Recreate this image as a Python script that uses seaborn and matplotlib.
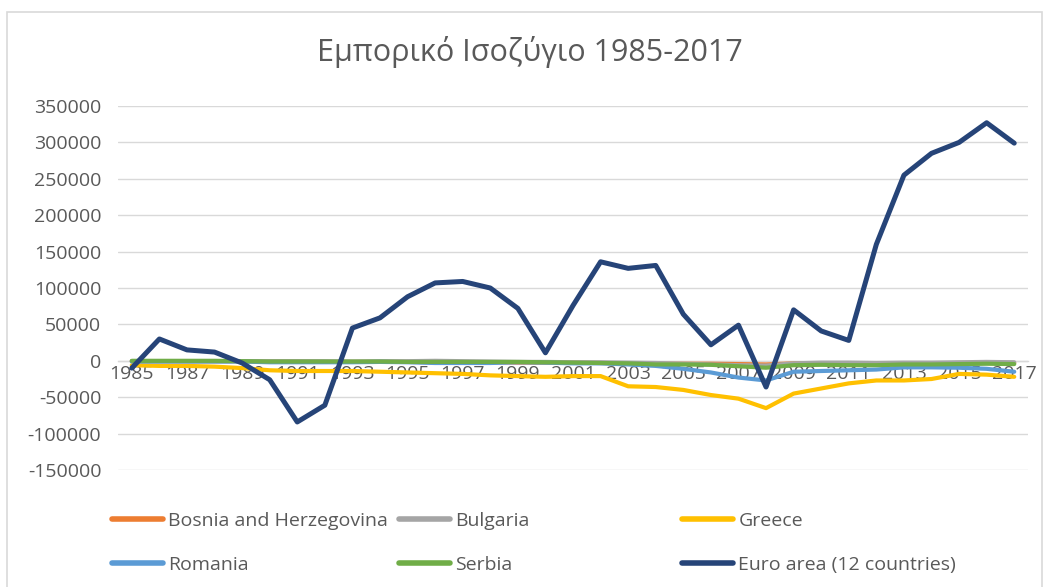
import matplotlib
matplotlib.use("Agg")
import matplotlib.pyplot as plt
import matplotlib.patches as mpatches
import seaborn as sns
import pandas as pd

# Trade balance by year
years = list(range(1985, 2018))

bosnia = [-500, -500, -500, -500, -500, -1000, -1000, -1500, -1500, -1500,
          -1500, -2000, -2000, -2000, -2500, -2500, -2500, -3000, -3500, -4000,
          -4000, -4000, -4500, -5000, -3500, -3500, -3500, -3500, -3500, -3500,
          -3000, -3000, -3000]
bulgaria = [-500, -500, -500, -500, -500, -500, -500, -500, -1000, -500,
            -500, 0, -500, -1000, -1500, -1500, -2000, -2000, -2500, -3000,
            -4000, -5000, -6000, -6500, -3500, -2500, -2500, -3000, -2500, -2500,
            -2000, -1500, -2000]
greece = [-6000, -7000, -7000, -8000, -10000, -13000, -14000, -14000, -14000, -15000,
          -16000, -17000, -18000, -20000, -21000, -22000, -21000, -21000, -35000, -36000,
          -40000, -47000, -52000, -65000, -45000, -38000, -31000, -27000, -27000, -25000,
          -18000, -19000, -22000]
romania = [-1000, -1000, -1000, -1000, -1000, -2000, -2000, -2000, -2000, -1500,
           -2000, -3000, -3000, -3000, -2000, -2500, -3500, -3500, -5000, -7000,
           -11000, -16000, -23000, -27000, -15000, -14000, -13000, -12000, -9000, -9000,
           -9500, -11000, -15000]
serbia = [0, 0, 0, 0, -500, -1000, -1000, -1000, -1000, -1000,
          -1500, -1500, -1500, -1500, -1500, -2000, -2500, -3000, -3500, -5000,
          -5000, -5500, -7500, -9500, -6000, -5500, -6000, -6000, -5000, -5000,
          -4500, -4000, -4500]
euro_area = [-10000, 30000, 15000, 12000, -3000, -26000, -84000, -61000, 45000, 59000,
             88000, 107000, 109000, 100000, 72000, 11000, 76000, 136000, 127000, 131000,
             64000, 22000, 49000, -36000, 70000, 41000, 28000, 160000, 255000, 285000,
             300000, 327000, 299000]

series_names = ["Bosnia and Herzegovina", "Bulgaria", "Greece",
                "Romania", "Serbia", "Euro area (12 countries)"]
series_values = [bosnia, bulgaria, greece, romania, serbia, euro_area]
colors = ["#ED7D31", "#A5A5A5", "#FFC000", "#5B9BD5", "#70AD47", "#264478"]

y_ticks = list(range(-150000, 350001, 50000))
x_ticks = list(range(1985, 2018, 2))
title = "Εμπορικό Ισοζύγιο 1985-2017"

df = pd.DataFrame({name: vals for name, vals in zip(series_names, series_values)})
df["Year"] = years
long_df = df.melt(id_vars="Year", var_name="Series", value_name="Balance")

sns.set_theme(style="white")
plt.rcParams["font.family"] = ["Open Sans", "DejaVu Sans"]

fig = plt.figure(figsize=(10.49, 5.87), dpi=100)
ax = fig.add_axes([0.1125, 0.1993, 0.8675, 0.6201])

sns.lineplot(data=long_df, x="Year", y="Balance", hue="Series",
             hue_order=series_names, palette=colors, linewidth=3.0,
             legend=False, ax=ax, zorder=3)
for line, name in zip(ax.get_lines(), series_names):
    if name == "Euro area (12 countries)":
        line.set_linewidth(3.6)
    line.set_solid_joinstyle("round")

ax.set_xlim(1984.5, 2017.5)
ax.set_ylim(-150000, 350000)
ax.set_yticks(y_ticks)
ax.set_yticklabels([str(v) for v in y_ticks])
ax.set_xticks(x_ticks)
ax.set_xticklabels([str(v) for v in x_ticks])
ax.set_xlabel("")
ax.set_ylabel("")

ax.grid(axis="y", color="#D9D9D9", linewidth=1.0, zorder=0)
ax.grid(axis="x", visible=False)
for side in ["top", "right", "left"]:
    ax.spines[side].set_visible(False)
ax.spines["bottom"].set_position(("data", 0))
ax.spines["bottom"].set_color("#D9D9D9")
ax.spines["bottom"].set_linewidth(1.0)
ax.spines["bottom"].set_zorder(1)

ax.tick_params(axis="both", length=0, labelsize=14, labelcolor="#595959")
ax.tick_params(axis="y", pad=12)
ax.tick_params(axis="x", pad=3)

fig.text(0.505, 0.911, title, ha="center", va="center",
         fontsize=22, color="#595959")

# Legend laid out in three columns of two entries
handles = [plt.Line2D([], [], color=c, linewidth=4.0) for c in colors]
col_x = [112 / 1049, 399 / 1049, 682 / 1049]
for i, x in enumerate(col_x):
    idx = [i, i + 3]
    leg = fig.legend([handles[j] for j in idx], [series_names[j] for j in idx],
                     loc="upper left", bbox_to_anchor=(x, 0.128),
                     frameon=False, fontsize=14, handlelength=2.6,
                     handletextpad=0.3, labelspacing=1.35,
                     borderpad=0, borderaxespad=0)
    for t in leg.get_texts():
        t.set_color("#595959")

# Chart border
fig.patches.append(mpatches.Rectangle((7 / 1049, -0.01), 1035 / 1049, 1 - 12 / 587 + 0.01,
                                      transform=fig.transFigure, fill=False,
                                      edgecolor="#D9D9D9", linewidth=1.2))

fig.savefig("out.png", dpi=100)
